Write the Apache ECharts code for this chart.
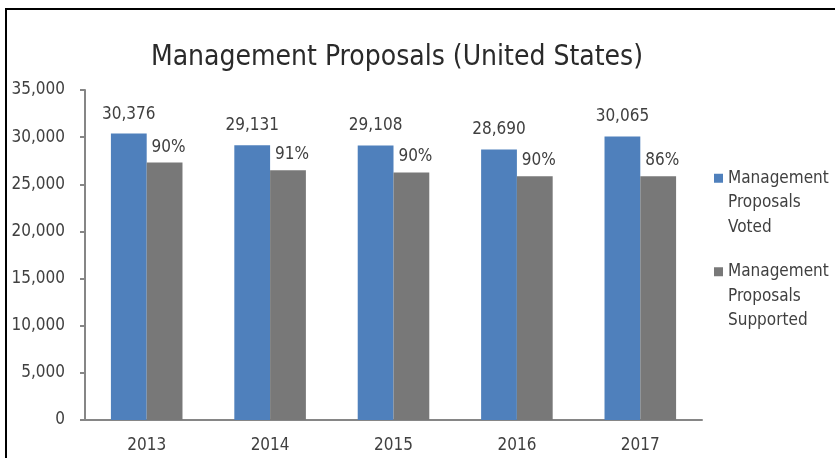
<!DOCTYPE html>
<html>
<head>
<meta charset="utf-8">
<script src="https://cdn.jsdelivr.net/npm/echarts@6/dist/echarts.min.js"></script>
<style>
  html, body { margin: 0; padding: 0; background: #fff; overflow: hidden; width: 835px; height: 458px; }
  #frame { position: absolute; left: 5px; top: 8px; width: 830px; height: 450px; border-left: 2px solid #000; border-top: 2px solid #000; box-sizing: border-box; }
  #main { position: absolute; left: 0; top: 0; width: 835px; height: 458px; }
</style>
</head>
<body>
<div id="frame"></div>
<div id="main"></div>
<script>
let years = ['2013', '2014', '2015', '2016', '2017'];
let voted = [30376, 29131, 29108, 28690, 30065];
// gray bar heights
let supported = [27300, 26500, 26250, 25850, 25850];
let supportedPct = ['90%', '91%', '90%', '90%', '86%'];

let font = "'DejaVu Sans Condensed', 'Liberation Sans Narrow', sans-serif";

// square at the top of a taller box, so the icon lines up with the first line of text
let legendIcon = 'path://M0,0L9,0L9,9L0,9Z M0,58';

let chart = echarts.init(document.getElementById('main'));
chart.setOption({
    animation: false,
    textStyle: { fontFamily: font },
    title: {
        text: 'Management Proposals (United States)',
        left: 392,
        textAlign: 'center',
        top: 39,
        textStyle: { fontFamily: font, fontSize: 28, fontWeight: 'normal', color: '#2a2a2a' }
    },
    legend: {
        orient: 'vertical',
        left: 709,
        top: 161,
        itemWidth: 9,
        itemHeight: 58,
        itemGap: 20,
        icon: legendIcon,
        formatter: function (name) {
            return name.replace(/ /g, '\n');
        },
        textStyle: {
            fontFamily: font, fontSize: 17, color: '#404040',
            lineHeight: 24.5
        },
        data: ['Management Proposals Voted', 'Management Proposals Supported']
    },
    grid: { left: 85, right: 133, top: 90, bottom: 38 },
    xAxis: {
        type: 'category',
        data: years,
        axisLine: { lineStyle: { color: '#868686', width: 2 } },
        axisTick: { alignWithLabel: false, length: 5, lineStyle: { color: '#868686', width: 2 } },
        axisLabel: { fontSize: 17, color: '#404040', margin: 17, fontFamily: font }
    },
    yAxis: {
        type: 'value',
        min: 0,
        max: 35000,
        interval: 5000,
        splitLine: { show: false },
        axisLine: { show: true, lineStyle: { color: '#868686', width: 2 } },
        axisTick: { show: true, length: 5, lineStyle: { color: '#868686', width: 2 } },
        axisLabel: {
            fontSize: 17, color: '#404040', margin: 20, fontFamily: font,
            formatter: function (v) { return v.toLocaleString('en-US'); }
        }
    },
    series: [
        {
            name: 'Management Proposals Voted',
            type: 'bar',
            data: voted,
            barGap: 0,
            barCategoryGap: '42%',
            itemStyle: { color: '#4f80bc' },
            label: {
                show: true, position: 'top', distance: 11,
                fontSize: 17, color: '#404040', fontFamily: font,
                formatter: function (p) { return p.value.toLocaleString('en-US'); }
            }
        },
        {
            name: 'Management Proposals Supported',
            type: 'bar',
            data: supported,
            itemStyle: { color: '#787878' },
            label: {
                show: true, position: 'top', distance: 7, offset: [4, 0],
                fontSize: 17, color: '#404040', fontFamily: font,
                formatter: function (p) { return supportedPct[p.dataIndex]; }
            }
        }
    ]
});
</script>
</body>
</html>
